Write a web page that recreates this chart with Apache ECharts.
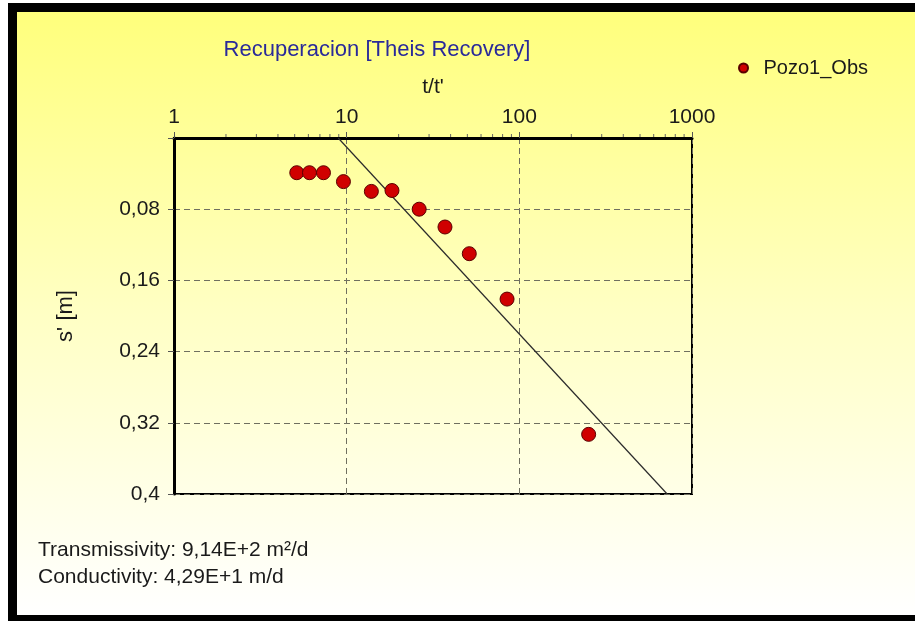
<!DOCTYPE html>
<html>
<head>
<meta charset="utf-8">
<script src="https://cdn.jsdelivr.net/npm/echarts@6/dist/echarts.min.js"></script>
<style>
html,body{margin:0;padding:0;background:#fff;}
#chart{width:915px;height:621px;}
</style>
</head>
<body>
<div id="chart"></div>
<script>
// Data
var ratioTT = [5.14, 6.09, 7.34, 9.58, 13.9, 18.3, 26.3, 37.1, 51.3, 84.9, 252];
var residualDrawdown = [0.039, 0.039, 0.039, 0.049, 0.06, 0.059, 0.08, 0.10, 0.13, 0.181, 0.333];
var fitLineX = [8.93, 718];
var fitLineY = [0, 0.4];
var xMinorTicks = [2,3,4,5,6,7,8,9,20,30,40,50,60,70,80,90,200,300,400,500,600,700,800,900];
var seriesName = 'Pozo1_Obs';
var chartTitle = 'Recuperacion [Theis Recovery]';
var xAxisName = "t/t'";
var yAxisName = "s' [m]";
var notes = ['Transmissivity: 9,14E+2 m\u00b2/d', 'Conductivity: 4,29E+1 m/d'];

var pts = ratioTT.map(function (x, i) { return [x, residualDrawdown[i]]; });
var linePts = fitLineX.map(function (x, i) { return [x, fitLineY[i]]; });

var chart = echarts.init(document.getElementById('chart'), null, {renderer: 'canvas'});
var FONT = 'Liberation Sans, Arial, sans-serif';
var TXT = '#1a1a1a';

var option = {
  backgroundColor: '#ffffff',
  animation: false,
  graphic: [
    {type: 'rect', z: -10, silent: true, shape: {x: 17, y: 12, width: 898, height: 603},
     style: {fill: new echarts.graphic.LinearGradient(0, 0, 0, 1, [
       {offset: 0, color: '#ffff7c'}, {offset: 0.5, color: '#ffffc4'}, {offset: 1, color: '#ffffff'}])}},
    {type: 'rect', z: -5, silent: true, shape: {x: 8, y: 3, width: 907, height: 9}, style: {fill: '#000'}},
    {type: 'rect', z: -5, silent: true, shape: {x: 8, y: 3, width: 9, height: 618}, style: {fill: '#000'}},
    {type: 'rect', z: -5, silent: true, shape: {x: 8, y: 615, width: 907, height: 6}, style: {fill: '#000'}},
    {type: 'text', left: 38, top: 540, style: {text: notes[0], font: '21px ' + FONT, fill: TXT}},
    {type: 'text', left: 38, top: 567, style: {text: notes[1], font: '21px ' + FONT, fill: TXT}}
  ],
  title: {
    text: chartTitle, left: 372, top: 34, textAlign: 'center',
    textStyle: {color: '#2a2a9a', fontSize: 22, fontWeight: 'normal', fontFamily: FONT}
  },
  legend: {
    data: [{name: seriesName, icon: 'circle'}],
    left: 738, top: 58, padding: 0, itemWidth: 12, itemHeight: 9, itemGap: 10,
    textStyle: {color: TXT, fontSize: 20, fontFamily: FONT, padding: [0, 0, 0, 9]}
  },
  grid: {left: 174, top: 138, width: 518, height: 356, show: true, borderColor: '#000', borderWidth: 2, backgroundColor: 'transparent'},
  xAxis: {
    type: 'log', logBase: 10, min: 1, max: 1000, position: 'top',
    name: xAxisName, nameLocation: 'middle', nameGap: 40,
    nameTextStyle: {color: TXT, fontSize: 21, fontFamily: FONT},
    axisLine: {show: true, lineStyle: {color: '#000', width: 3}},
    axisTick: {show: true, inside: false, length: 6, lineStyle: {color: '#555'}},
    axisLabel: {color: TXT, fontSize: 21, fontFamily: FONT, margin: 10, showMinLabel: true, showMaxLabel: true,
      formatter: function (v) { return String(Math.round(v)); }},
    splitLine: {show: true, lineStyle: {color: '#6f6f5f', type: [6, 4], width: 1}}
  },
  yAxis: {
    type: 'value', inverse: true, min: 0, max: 0.4, interval: 0.08,
    name: yAxisName, nameLocation: 'middle', nameGap: 97, nameRotate: 90,
    nameTextStyle: {color: TXT, fontSize: 22, fontFamily: FONT},
    axisLine: {show: true, lineStyle: {color: '#000', width: 3}},
    axisTick: {show: true, inside: false, length: 6, lineStyle: {color: '#555'}},
    axisLabel: {color: TXT, fontSize: 21, fontFamily: FONT, margin: 14,
      formatter: function (v) { if (Math.abs(v) < 1e-9) return ''; return String(+v.toFixed(2)).replace('.', ','); }},
    splitLine: {show: true, lineStyle: {color: '#6f6f5f', type: [6, 4], width: 1}}
  },
  series: [
    {
      name: 'fit', type: 'line', data: linePts, showSymbol: false, symbol: 'none',
      lineStyle: {color: '#2b2b2b', width: 1.2}, z: 3, silent: true
    },
    {
      name: seriesName, type: 'scatter', data: pts, symbol: 'circle', symbolSize: 14,
      itemStyle: {color: '#d00000', borderColor: '#5a0000', borderWidth: 1, opacity: 1}, z: 4
    },
    {
      name: 'minorTicks', type: 'custom', silent: true, z: 2,
      data: xMinorTicks.map(function (v) { return [v, 0]; }),
      renderItem: function (params, api) {
        var p = api.coord([api.value(0), 0]);
        return {type: 'line', shape: {x1: p[0], y1: p[1] - 1, x2: p[0], y2: p[1] - 4},
                style: {stroke: '#666', lineWidth: 1}};
      }
    }
  ]
};
chart.setOption(option);
</script>
</body>
</html>
